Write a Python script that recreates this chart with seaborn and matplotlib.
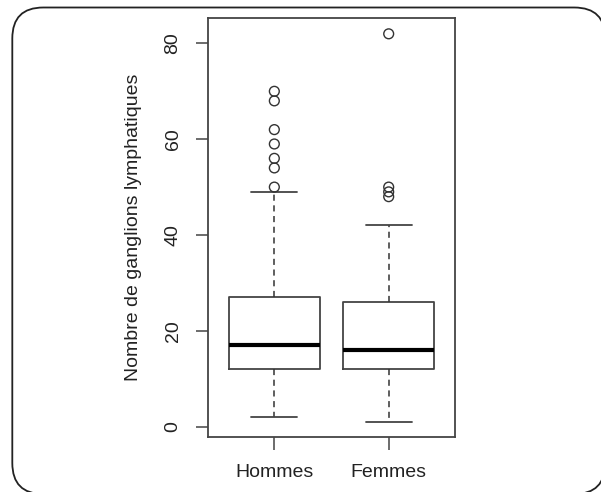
import matplotlib
matplotlib.use("Agg")
import matplotlib.pyplot as plt
import seaborn as sns
import pandas as pd
from matplotlib.patches import FancyBboxPatch

# ---- data ----
groups = ["Hommes", "Femmes"]
q1 = [12, 12]
medians = [17, 16]
q3 = [27, 26]
whisker_low = [2, 1]
whisker_high = [49, 42]
outliers_hommes = [50, 54, 56, 59, 62, 68, 70]
outliers_femmes = [48, 49, 50, 82]
y_ticks = [0, 20, 40, 60, 80]
y_label = "Nombre de ganglions lymphatiques"

sns.set_theme(style="ticks")
plt.rcParams["font.family"] = ["Liberation Sans", "DejaVu Sans"]

fig = plt.figure(figsize=(6.01, 4.92), dpi=100)

# rounded screenshot frame (right and bottom sides lie just beyond the canvas)
frame = FancyBboxPatch((0.123, -0.02), 5.93, 4.865,
                       boxstyle="round,pad=0,rounding_size=0.31",
                       transform=fig.dpi_scale_trans, facecolor="white",
                       edgecolor="#222222", linewidth=1.3, zorder=-5)
fig.patches.append(frame)

ax = fig.add_axes([0.3461, 0.1112, 0.411, 0.8516])

stats = []
for i, g in enumerate(groups):
    stats.append(dict(label=g, med=medians[i], q1=q1[i], q3=q3[i],
                      whislo=whisker_low[i], whishi=whisker_high[i], fliers=[]))

edge = "#444444"
ax.bxp(stats, positions=[0, 1], widths=0.8, showfliers=False,
       boxprops=dict(color=edge, linewidth=1.3),
       medianprops=dict(color="black", linewidth=3.0, solid_capstyle="butt"),
       whiskerprops=dict(color="#333333", linewidth=1.1, linestyle=(0, (4, 3))),
       capprops=dict(color=edge, linewidth=1.3),
       capwidths=0.4)

out_df = pd.DataFrame({
    "pos": [0] * len(outliers_hommes) + [1] * len(outliers_femmes),
    "val": outliers_hommes + outliers_femmes,
})
sns.scatterplot(data=out_df, x="pos", y="val", ax=ax, marker="o", s=50,
                facecolors="none", edgecolor="#333333", linewidth=1.0,
                zorder=5, legend=False)

ax.set_xlim(-0.58, 1.58)
ax.set_ylim(-2.24, 85.24)
ax.set_xticks([0, 1])
ax.set_xticklabels(groups, fontsize=14, color="#222222")
ax.set_yticks(y_ticks)
ax.set_yticklabels([str(t) for t in y_ticks], fontsize=14, color="#222222",
                   rotation=90, va="center")
ax.set_xlabel("")
ax.set_ylabel(y_label, fontsize=14, color="#222222", labelpad=16)
ax.tick_params(axis="both", length=9, width=1.1, color="#444444", pad=10)
for s in ax.spines.values():
    s.set_visible(True)
    s.set_color("#444444")
    s.set_linewidth(1.3)
ax.grid(False)

fig.savefig("out.png", dpi=100)
